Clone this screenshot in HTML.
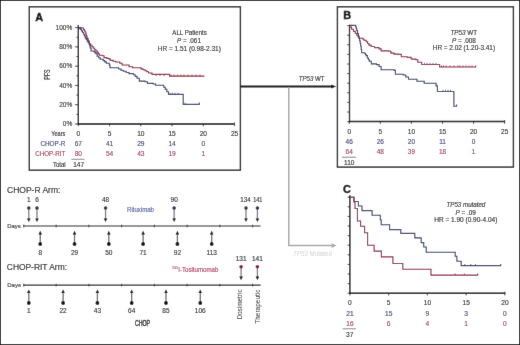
<!DOCTYPE html>
<html><head><meta charset="utf-8"><style>
html,body{margin:0;padding:0;background:#fff;width:520px;height:345px;overflow:hidden}
svg{display:block;will-change:transform}
text{font-family:"Liberation Sans", sans-serif}
</style></head><body>
<svg width="520" height="345" viewBox="0 0 520 345" font-family='"Liberation Sans", sans-serif'>
<defs><filter id="soft" x="0" y="0" width="520" height="345" filterUnits="userSpaceOnUse"><feConvolveMatrix order="3" kernelMatrix="0.006 0.07 0.006 0.07 1 0.07 0.006 0.07 0.006" edgeMode="duplicate"/></filter></defs>
<g filter="url(#soft)">
<rect x="0.5" y="0.5" width="519" height="344" fill="#fff" stroke="#1e1e1e" stroke-width="1"/>
<rect x="29.3" y="6.8" width="211.1" height="163.4" fill="none" stroke="#1c1c1c" stroke-width="1.4"/>
<text x="35.2" y="20.8" font-size="10.9" text-anchor="start" fill="#000" stroke="#000" stroke-width="0.35" font-weight="bold">A</text>
<line x1="78.3" y1="25.0" x2="78.3" y2="124.6" stroke="#000" stroke-width="1.3"/>
<line x1="77.8" y1="124.0" x2="234.6" y2="124.0" stroke="#000" stroke-width="1.5"/>
<line x1="75.1" y1="27.6" x2="78.3" y2="27.6" stroke="#222" stroke-width="0.9"/>
<line x1="76.5" y1="37.24" x2="78.3" y2="37.24" stroke="#222" stroke-width="0.9"/>
<line x1="75.1" y1="46.88" x2="78.3" y2="46.88" stroke="#222" stroke-width="0.9"/>
<line x1="76.5" y1="56.52000000000001" x2="78.3" y2="56.52000000000001" stroke="#222" stroke-width="0.9"/>
<line x1="75.1" y1="66.16" x2="78.3" y2="66.16" stroke="#222" stroke-width="0.9"/>
<line x1="76.5" y1="75.80000000000001" x2="78.3" y2="75.80000000000001" stroke="#222" stroke-width="0.9"/>
<line x1="75.1" y1="85.44000000000001" x2="78.3" y2="85.44000000000001" stroke="#222" stroke-width="0.9"/>
<line x1="76.5" y1="95.08000000000001" x2="78.3" y2="95.08000000000001" stroke="#222" stroke-width="0.9"/>
<line x1="75.1" y1="104.72" x2="78.3" y2="104.72" stroke="#222" stroke-width="0.9"/>
<line x1="76.5" y1="114.36000000000001" x2="78.3" y2="114.36000000000001" stroke="#222" stroke-width="0.9"/>
<line x1="75.1" y1="124.0" x2="78.3" y2="124.0" stroke="#222" stroke-width="0.9"/>
<text x="72.2" y="29.8" font-size="6.5" text-anchor="end" fill="#333" stroke="#333" stroke-width="0.14">100%</text>
<text x="72.2" y="49.080000000000005" font-size="6.5" text-anchor="end" fill="#333" stroke="#333" stroke-width="0.14">80%</text>
<text x="72.2" y="68.36" font-size="6.5" text-anchor="end" fill="#333" stroke="#333" stroke-width="0.14">60%</text>
<text x="72.2" y="87.64000000000001" font-size="6.5" text-anchor="end" fill="#333" stroke="#333" stroke-width="0.14">40%</text>
<text x="72.2" y="106.92" font-size="6.5" text-anchor="end" fill="#333" stroke="#333" stroke-width="0.14">20%</text>
<text x="72.2" y="126.2" font-size="6.5" text-anchor="end" fill="#333" stroke="#333" stroke-width="0.14">0%</text>
<line x1="78.3" y1="124.0" x2="78.3" y2="126.2" stroke="#222" stroke-width="0.9"/>
<line x1="109.55" y1="124.0" x2="109.55" y2="126.2" stroke="#222" stroke-width="0.9"/>
<line x1="140.8" y1="124.0" x2="140.8" y2="126.2" stroke="#222" stroke-width="0.9"/>
<line x1="172.05" y1="124.0" x2="172.05" y2="126.2" stroke="#222" stroke-width="0.9"/>
<line x1="203.3" y1="124.0" x2="203.3" y2="126.2" stroke="#222" stroke-width="0.9"/>
<line x1="234.55" y1="124.0" x2="234.55" y2="126.2" stroke="#222" stroke-width="0.9"/>
<line x1="234.55" y1="122.5" x2="234.55" y2="124.0" stroke="#222" stroke-width="0.9"/>
<text x="78.3" y="136.3" font-size="6.6" text-anchor="middle" fill="#2a2a2a" stroke="#2a2a2a" stroke-width="0.14">0</text>
<text x="109.55" y="136.3" font-size="6.6" text-anchor="middle" fill="#2a2a2a" stroke="#2a2a2a" stroke-width="0.14">5</text>
<text x="140.8" y="136.3" font-size="6.6" text-anchor="middle" fill="#2a2a2a" stroke="#2a2a2a" stroke-width="0.14">10</text>
<text x="172.05" y="136.3" font-size="6.6" text-anchor="middle" fill="#2a2a2a" stroke="#2a2a2a" stroke-width="0.14">15</text>
<text x="203.3" y="136.3" font-size="6.6" text-anchor="middle" fill="#2a2a2a" stroke="#2a2a2a" stroke-width="0.14">20</text>
<text x="234.55" y="136.3" font-size="6.6" text-anchor="middle" fill="#2a2a2a" stroke="#2a2a2a" stroke-width="0.14">25</text>
<text transform="translate(49.8,74.6) rotate(-90)" x="0" y="0" font-size="8.2" text-anchor="middle" fill="#222" stroke="#222" stroke-width="0.25" textLength="10.2" lengthAdjust="spacingAndGlyphs">PFS</text>
<text x="65.4" y="136.3" font-size="6.7" text-anchor="end" fill="#2a2a2a" stroke="#2a2a2a" stroke-width="0.14" textLength="14.2" lengthAdjust="spacingAndGlyphs">Years</text>
<text x="65.4" y="146.3" font-size="6.7" text-anchor="end" fill="#3e4476" stroke="#3e4476" stroke-width="0.14" textLength="25.0" lengthAdjust="spacingAndGlyphs">CHOP-R</text>
<text x="65.4" y="156.2" font-size="6.7" text-anchor="end" fill="#a03c55" stroke="#a03c55" stroke-width="0.14" textLength="30.2" lengthAdjust="spacingAndGlyphs">CHOP-RIT</text>
<text x="65.6" y="167.4" font-size="6.7" text-anchor="end" fill="#2a2a2a" stroke="#2a2a2a" stroke-width="0.14" textLength="12.6" lengthAdjust="spacingAndGlyphs">Total</text>
<text x="78.3" y="146.3" font-size="6.6" text-anchor="middle" fill="#3e4476" stroke="#3e4476" stroke-width="0.14">67</text>
<text x="109.55" y="146.3" font-size="6.6" text-anchor="middle" fill="#3e4476" stroke="#3e4476" stroke-width="0.14">41</text>
<text x="140.8" y="146.3" font-size="6.6" text-anchor="middle" fill="#3e4476" stroke="#3e4476" stroke-width="0.14">29</text>
<text x="172.05" y="146.3" font-size="6.6" text-anchor="middle" fill="#3e4476" stroke="#3e4476" stroke-width="0.14">14</text>
<text x="203.3" y="146.3" font-size="6.6" text-anchor="middle" fill="#3e4476" stroke="#3e4476" stroke-width="0.14">0</text>
<text x="78.3" y="156.2" font-size="6.6" text-anchor="middle" fill="#a03c55" stroke="#a03c55" stroke-width="0.14">80</text>
<text x="109.55" y="156.2" font-size="6.6" text-anchor="middle" fill="#a03c55" stroke="#a03c55" stroke-width="0.14">54</text>
<text x="140.8" y="156.2" font-size="6.6" text-anchor="middle" fill="#a03c55" stroke="#a03c55" stroke-width="0.14">43</text>
<text x="172.05" y="156.2" font-size="6.6" text-anchor="middle" fill="#a03c55" stroke="#a03c55" stroke-width="0.14">19</text>
<text x="203.3" y="156.2" font-size="6.6" text-anchor="middle" fill="#a03c55" stroke="#a03c55" stroke-width="0.14">1</text>
<line x1="71.4" y1="159.3" x2="84.4" y2="159.3" stroke="#555" stroke-width="0.7"/>
<text x="78.6" y="167.4" font-size="6.5" text-anchor="middle" fill="#2a2a2a" stroke="#2a2a2a" stroke-width="0.14">147</text>
<text x="189.6" y="35.0" font-size="6.5" text-anchor="middle" fill="#2a2a2a" stroke="#2a2a2a" stroke-width="0.14" textLength="34.6" lengthAdjust="spacingAndGlyphs">ALL Patients</text>
<text x="189.0" y="42.7" font-size="6.5" text-anchor="middle" fill="#2a2a2a" stroke="#2a2a2a" stroke-width="0.14" textLength="23.9" lengthAdjust="spacingAndGlyphs"><tspan font-style="italic">P</tspan> = .061</text>
<text x="189.3" y="50.8" font-size="6.5" text-anchor="middle" fill="#2a2a2a" stroke="#2a2a2a" stroke-width="0.14" textLength="63.1" lengthAdjust="spacingAndGlyphs">HR = 1.51 (0.98-2.31)</text>
<path d="M78.3,27.6 H81.5 V28.0 H83.5 V29.6 H84.4 V31.0 H85.3 V32.3 H85.8 V33.9 H86.3 V35.5 H86.8 V37.0 H87.2 V38.5 H88.2 V41.0 H89.3 V43.7 H90.6 V45.2 H92.0 V46.7 H93.3 V48.2 H94.6 V49.7 H95.9 V51.0 H97.2 V52.3 H98.3 V53.8 H99.3 V55.2 H102.4 V55.8 H104.1 V57.6 H106.7 V58.4 H108.9 V58.9 H110.2 V60.4 H113.0 V61.2 H115.7 V62.0 H119.8 V63.2 H122.1 V65.0 H126.8 V65.0 H129.0 V66.7 H132.6 V67.8 H139.3 V67.8 H141.0 V68.9 H143.0 V69.8 H145.1 V70.7 H146.8 V71.8 H148.6 V73.0 H152.0 V74.4 H168.5 V74.4 H169.6 V76.1 H204.4 V76.1" fill="none" stroke="#8a2640" stroke-width="1.1" stroke-linejoin="miter"/>
<path d="M78.3,27.6 H79.8 V28.6 H80.7 V29.8 H81.6 V30.9 H82.5 V32.5 H83.5 V34.2 H84.4 V36.0 H85.3 V37.9 H86.2 V39.5 H87.2 V41.1 H88.2 V42.8 H89.3 V44.5 H89.8 V46.2 H90.2 V48.0 H91.1 V51.0 H93.7 V51.5 H94.8 V52.6 H95.9 V53.7 H97.2 V56.3 H98.7 V57.8 H100.2 V59.3 H103.3 V60.6 H104.8 V61.9 H106.3 V63.2 H109.3 V65.0 H110.0 V67.8 H118.6 V69.0 H121.0 V70.2 H123.3 V71.3 H126.2 V72.5 H129.0 V73.6 H133.5 V74.7 H135.2 V76.4 H137.0 V78.2 H139.3 V81.1 H145.1 V81.7 H147.4 V83.4 H153.2 V84.0 H155.5 V85.2 H162.5 V85.2 H163.8 V87.2 H165.2 V89.2 H166.8 V91.8 H168.5 V94.4 H183.2 V94.4 H183.2 V104.4 H199.3 V104.4 H199.3 V102.6" fill="none" stroke="#343c6a" stroke-width="1.1" stroke-linejoin="miter"/>
<line x1="156" y1="76.1" x2="156" y2="74.5" stroke="#8a2640" stroke-width="0.8"/>
<line x1="160" y1="76.1" x2="160" y2="74.5" stroke="#8a2640" stroke-width="0.8"/>
<line x1="164" y1="76.1" x2="164" y2="74.5" stroke="#8a2640" stroke-width="0.8"/>
<line x1="171" y1="76.1" x2="171" y2="74.5" stroke="#8a2640" stroke-width="0.8"/>
<line x1="174" y1="76.1" x2="174" y2="74.5" stroke="#8a2640" stroke-width="0.8"/>
<line x1="177.5" y1="76.1" x2="177.5" y2="74.5" stroke="#8a2640" stroke-width="0.8"/>
<line x1="181" y1="76.1" x2="181" y2="74.5" stroke="#8a2640" stroke-width="0.8"/>
<line x1="184" y1="76.1" x2="184" y2="74.5" stroke="#8a2640" stroke-width="0.8"/>
<line x1="188" y1="76.1" x2="188" y2="74.5" stroke="#8a2640" stroke-width="0.8"/>
<line x1="192" y1="76.1" x2="192" y2="74.5" stroke="#8a2640" stroke-width="0.8"/>
<line x1="196" y1="76.1" x2="196" y2="74.5" stroke="#8a2640" stroke-width="0.8"/>
<line x1="200" y1="76.1" x2="200" y2="74.5" stroke="#8a2640" stroke-width="0.8"/>
<line x1="170" y1="94.4" x2="170" y2="92.80000000000001" stroke="#343c6a" stroke-width="0.8"/>
<line x1="172.5" y1="94.4" x2="172.5" y2="92.80000000000001" stroke="#343c6a" stroke-width="0.8"/>
<line x1="175" y1="94.4" x2="175" y2="92.80000000000001" stroke="#343c6a" stroke-width="0.8"/>
<line x1="178" y1="94.4" x2="178" y2="92.80000000000001" stroke="#343c6a" stroke-width="0.8"/>
<line x1="185.1" y1="104.4" x2="185.1" y2="102.80000000000001" stroke="#343c6a" stroke-width="0.8"/>
<line x1="240" y1="86.4" x2="332.5" y2="86.4" stroke="#0a0a0a" stroke-width="2.0"/>
<polygon points="331.2,84.4 336.3,86.4 331.2,88.4" fill="#111"/>
<text x="298.7" y="81.0" font-size="6.6" text-anchor="start" fill="#2a2a2a" stroke="#2a2a2a" stroke-width="0.14" textLength="25.8" lengthAdjust="spacingAndGlyphs"><tspan font-style="italic">TP53</tspan> WT</text>
<path d="M288.75,87.3 V245.6 H333" fill="none" stroke="#a9a9a9" stroke-width="1.5"/>
<polygon points="331.6,243.3 336.6,245.6 331.6,247.9" fill="#a9a9a9"/>
<text x="293.1" y="256.0" font-size="6.4" text-anchor="start" fill="#d4d4d4" stroke="#d4d4d4" stroke-width="0.05" textLength="38.8" lengthAdjust="spacingAndGlyphs"><tspan font-style="italic">TP53</tspan> Mutated</text>
<rect x="337.4" y="6.8" width="176" height="160.3" fill="none" stroke="#1c1c1c" stroke-width="1.4"/>
<text x="343.3" y="19.0" font-size="10.9" text-anchor="start" fill="#000" stroke="#000" stroke-width="0.35" font-weight="bold">B</text>
<line x1="349.5" y1="24.8" x2="349.5" y2="122.2" stroke="#000" stroke-width="1.3"/>
<line x1="349.0" y1="121.6" x2="505.0" y2="121.6" stroke="#000" stroke-width="1.5"/>
<line x1="347.3" y1="25.6" x2="349.5" y2="25.6" stroke="#222" stroke-width="0.9"/>
<line x1="347.3" y1="35.2" x2="349.5" y2="35.2" stroke="#222" stroke-width="0.9"/>
<line x1="347.3" y1="44.8" x2="349.5" y2="44.8" stroke="#222" stroke-width="0.9"/>
<line x1="347.3" y1="54.400000000000006" x2="349.5" y2="54.400000000000006" stroke="#222" stroke-width="0.9"/>
<line x1="347.3" y1="64.0" x2="349.5" y2="64.0" stroke="#222" stroke-width="0.9"/>
<line x1="347.3" y1="73.6" x2="349.5" y2="73.6" stroke="#222" stroke-width="0.9"/>
<line x1="347.3" y1="83.2" x2="349.5" y2="83.2" stroke="#222" stroke-width="0.9"/>
<line x1="347.3" y1="92.80000000000001" x2="349.5" y2="92.80000000000001" stroke="#222" stroke-width="0.9"/>
<line x1="347.3" y1="102.4" x2="349.5" y2="102.4" stroke="#222" stroke-width="0.9"/>
<line x1="347.3" y1="112.0" x2="349.5" y2="112.0" stroke="#222" stroke-width="0.9"/>
<line x1="347.3" y1="121.6" x2="349.5" y2="121.6" stroke="#222" stroke-width="0.9"/>
<line x1="349.2" y1="121.6" x2="349.2" y2="123.8" stroke="#222" stroke-width="0.9"/>
<line x1="380.3" y1="121.6" x2="380.3" y2="123.8" stroke="#222" stroke-width="0.9"/>
<line x1="411.4" y1="121.6" x2="411.4" y2="123.8" stroke="#222" stroke-width="0.9"/>
<line x1="442.5" y1="121.6" x2="442.5" y2="123.8" stroke="#222" stroke-width="0.9"/>
<line x1="473.6" y1="121.6" x2="473.6" y2="123.8" stroke="#222" stroke-width="0.9"/>
<line x1="504.7" y1="121.6" x2="504.7" y2="123.8" stroke="#222" stroke-width="0.9"/>
<line x1="504.7" y1="120.1" x2="504.7" y2="121.6" stroke="#222" stroke-width="0.9"/>
<text x="349.2" y="133.6" font-size="6.5" text-anchor="middle" fill="#2a2a2a" stroke="#2a2a2a" stroke-width="0.14">0</text>
<text x="380.3" y="133.6" font-size="6.5" text-anchor="middle" fill="#2a2a2a" stroke="#2a2a2a" stroke-width="0.14">5</text>
<text x="411.4" y="133.6" font-size="6.5" text-anchor="middle" fill="#2a2a2a" stroke="#2a2a2a" stroke-width="0.14">10</text>
<text x="442.5" y="133.6" font-size="6.5" text-anchor="middle" fill="#2a2a2a" stroke="#2a2a2a" stroke-width="0.14">15</text>
<text x="473.6" y="133.6" font-size="6.5" text-anchor="middle" fill="#2a2a2a" stroke="#2a2a2a" stroke-width="0.14">20</text>
<text x="504.7" y="133.6" font-size="6.5" text-anchor="middle" fill="#2a2a2a" stroke="#2a2a2a" stroke-width="0.14">25</text>
<text x="349.2" y="143.7" font-size="6.5" text-anchor="middle" fill="#3e4476" stroke="#3e4476" stroke-width="0.14">46</text>
<text x="380.3" y="143.7" font-size="6.5" text-anchor="middle" fill="#3e4476" stroke="#3e4476" stroke-width="0.14">26</text>
<text x="411.4" y="143.7" font-size="6.5" text-anchor="middle" fill="#3e4476" stroke="#3e4476" stroke-width="0.14">20</text>
<text x="442.5" y="143.7" font-size="6.5" text-anchor="middle" fill="#3e4476" stroke="#3e4476" stroke-width="0.14">11</text>
<text x="473.6" y="143.7" font-size="6.5" text-anchor="middle" fill="#3e4476" stroke="#3e4476" stroke-width="0.14">0</text>
<text x="349.2" y="153.9" font-size="6.5" text-anchor="middle" fill="#a03c55" stroke="#a03c55" stroke-width="0.14">64</text>
<text x="380.3" y="153.9" font-size="6.5" text-anchor="middle" fill="#a03c55" stroke="#a03c55" stroke-width="0.14">48</text>
<text x="411.4" y="153.9" font-size="6.5" text-anchor="middle" fill="#a03c55" stroke="#a03c55" stroke-width="0.14">39</text>
<text x="442.5" y="153.9" font-size="6.5" text-anchor="middle" fill="#a03c55" stroke="#a03c55" stroke-width="0.14">18</text>
<text x="473.6" y="153.9" font-size="6.5" text-anchor="middle" fill="#a03c55" stroke="#a03c55" stroke-width="0.14">1</text>
<line x1="342.0" y1="157.2" x2="356.2" y2="157.2" stroke="#555" stroke-width="0.7"/>
<text x="349.3" y="165.0" font-size="6.6" text-anchor="middle" fill="#2a2a2a" stroke="#2a2a2a" stroke-width="0.14" textLength="10.4" lengthAdjust="spacingAndGlyphs">110</text>
<text x="463.7" y="34.7" font-size="6.5" text-anchor="middle" fill="#2a2a2a" stroke="#2a2a2a" stroke-width="0.14" textLength="26.6" lengthAdjust="spacingAndGlyphs"><tspan font-style="italic">TP53</tspan> WT</text>
<text x="463.9" y="42.8" font-size="6.5" text-anchor="middle" fill="#2a2a2a" stroke="#2a2a2a" stroke-width="0.14" textLength="23.9" lengthAdjust="spacingAndGlyphs"><tspan font-style="italic">P</tspan> = .008</text>
<text x="463.9" y="50.1" font-size="6.5" text-anchor="middle" fill="#2a2a2a" stroke="#2a2a2a" stroke-width="0.14" textLength="62.3" lengthAdjust="spacingAndGlyphs">HR = 2.02 (1.20-3.41)</text>
<path d="M349.5,25.4 H349.7 V27.0 H351.6 V29.2 H353.5 V31.4 H355.2 V33.3 H356.8 V35.2 H358.0 V36.8 H359.0 V38.3 H361.8 V38.3 H363.0 V39.2 H364.0 V40.2 H366.2 V41.8 H367.6 V43.5 H368.9 V45.1 H371.1 V46.5 H374.5 V47.6 H379.1 V48.9 H381.1 V50.9 H388.9 V51.3 H390.9 V53.1 H394.1 V54.1 H398.0 V54.4 H401.3 V56.7 H407.2 V57.4 H411.1 V58.7 H412.0 V59.1 H415.9 V59.8 H417.8 V62.2 H421.7 V64.5 H439.2 V64.5 H439.6 V67.0 H475.7 V67.0 H475.7 V65.4" fill="none" stroke="#8a2640" stroke-width="1.1" stroke-linejoin="miter"/>
<path d="M349.5,25.4 H355.2 V25.4 H355.7 V27.0 H356.3 V28.9 H356.8 V30.8 H357.6 V33.5 H358.5 V36.3 H359.0 V38.5 H359.6 V40.7 H360.2 V43.5 H360.7 V46.2 H361.2 V49.5 H361.6 V52.8 H364.7 V53.5 H365.5 V54.6 H366.2 V55.6 H367.4 V58.0 H368.4 V59.7 H369.3 V61.3 H371.3 V63.9 H376.5 V64.6 H379.1 V66.5 H381.1 V69.8 H394.1 V70.4 H395.4 V74.3 H403.2 V75.0 H405.8 V77.0 H408.5 V79.2 H416.5 V79.2 H416.9 V81.3 H423.7 V81.3 H424.2 V83.2 H433.5 V83.2 H436.1 V85.9 H437.4 V91.5 H453.9 V91.5 H453.9 V106.3 H456.6 V106.3 H456.6 V104.6" fill="none" stroke="#343c6a" stroke-width="1.1" stroke-linejoin="miter"/>
<line x1="424.5" y1="64.5" x2="424.5" y2="62.9" stroke="#8a2640" stroke-width="0.8"/>
<line x1="427" y1="64.5" x2="427" y2="62.9" stroke="#8a2640" stroke-width="0.8"/>
<line x1="430" y1="64.5" x2="430" y2="62.9" stroke="#8a2640" stroke-width="0.8"/>
<line x1="433" y1="64.5" x2="433" y2="62.9" stroke="#8a2640" stroke-width="0.8"/>
<line x1="436" y1="64.5" x2="436" y2="62.9" stroke="#8a2640" stroke-width="0.8"/>
<line x1="441.5" y1="67.0" x2="441.5" y2="65.4" stroke="#8a2640" stroke-width="0.8"/>
<line x1="443.5" y1="67.0" x2="443.5" y2="65.4" stroke="#8a2640" stroke-width="0.8"/>
<line x1="446" y1="67.0" x2="446" y2="65.4" stroke="#8a2640" stroke-width="0.8"/>
<line x1="450" y1="67.0" x2="450" y2="65.4" stroke="#8a2640" stroke-width="0.8"/>
<line x1="454" y1="67.0" x2="454" y2="65.4" stroke="#8a2640" stroke-width="0.8"/>
<line x1="458" y1="67.0" x2="458" y2="65.4" stroke="#8a2640" stroke-width="0.8"/>
<line x1="460" y1="67.0" x2="460" y2="65.4" stroke="#8a2640" stroke-width="0.8"/>
<line x1="463" y1="67.0" x2="463" y2="65.4" stroke="#8a2640" stroke-width="0.8"/>
<line x1="466" y1="67.0" x2="466" y2="65.4" stroke="#8a2640" stroke-width="0.8"/>
<line x1="469" y1="67.0" x2="469" y2="65.4" stroke="#8a2640" stroke-width="0.8"/>
<line x1="472" y1="67.0" x2="472" y2="65.4" stroke="#8a2640" stroke-width="0.8"/>
<line x1="443" y1="91.5" x2="443" y2="89.9" stroke="#343c6a" stroke-width="0.8"/>
<line x1="445.5" y1="91.5" x2="445.5" y2="89.9" stroke="#343c6a" stroke-width="0.8"/>
<line x1="448" y1="91.5" x2="448" y2="89.9" stroke="#343c6a" stroke-width="0.8"/>
<line x1="450.5" y1="91.5" x2="450.5" y2="89.9" stroke="#343c6a" stroke-width="0.8"/>
<text x="343.0" y="192.7" font-size="10.9" text-anchor="start" fill="#000" stroke="#000" stroke-width="0.35" font-weight="bold">C</text>
<line x1="349.9" y1="195.3" x2="349.9" y2="293.8" stroke="#000" stroke-width="1.3"/>
<line x1="349.4" y1="293.2" x2="505.2" y2="293.2" stroke="#000" stroke-width="1.5"/>
<line x1="347.7" y1="197.2" x2="349.9" y2="197.2" stroke="#222" stroke-width="0.9"/>
<line x1="347.7" y1="206.79999999999998" x2="349.9" y2="206.79999999999998" stroke="#222" stroke-width="0.9"/>
<line x1="347.7" y1="216.39999999999998" x2="349.9" y2="216.39999999999998" stroke="#222" stroke-width="0.9"/>
<line x1="347.7" y1="226.0" x2="349.9" y2="226.0" stroke="#222" stroke-width="0.9"/>
<line x1="347.7" y1="235.6" x2="349.9" y2="235.6" stroke="#222" stroke-width="0.9"/>
<line x1="347.7" y1="245.2" x2="349.9" y2="245.2" stroke="#222" stroke-width="0.9"/>
<line x1="347.7" y1="254.79999999999998" x2="349.9" y2="254.79999999999998" stroke="#222" stroke-width="0.9"/>
<line x1="347.7" y1="264.4" x2="349.9" y2="264.4" stroke="#222" stroke-width="0.9"/>
<line x1="347.7" y1="274.0" x2="349.9" y2="274.0" stroke="#222" stroke-width="0.9"/>
<line x1="347.7" y1="283.6" x2="349.9" y2="283.6" stroke="#222" stroke-width="0.9"/>
<line x1="347.7" y1="293.2" x2="349.9" y2="293.2" stroke="#222" stroke-width="0.9"/>
<line x1="349.9" y1="293.2" x2="349.9" y2="295.4" stroke="#222" stroke-width="0.9"/>
<line x1="388.65" y1="293.2" x2="388.65" y2="295.4" stroke="#222" stroke-width="0.9"/>
<line x1="427.4" y1="293.2" x2="427.4" y2="295.4" stroke="#222" stroke-width="0.9"/>
<line x1="466.15" y1="293.2" x2="466.15" y2="295.4" stroke="#222" stroke-width="0.9"/>
<line x1="504.9" y1="293.2" x2="504.9" y2="295.4" stroke="#222" stroke-width="0.9"/>
<line x1="504.9" y1="291.7" x2="504.9" y2="293.2" stroke="#222" stroke-width="0.9"/>
<text x="349.9" y="305.3" font-size="6.6" text-anchor="middle" fill="#2a2a2a" stroke="#2a2a2a" stroke-width="0.14">0</text>
<text x="388.65" y="305.3" font-size="6.6" text-anchor="middle" fill="#2a2a2a" stroke="#2a2a2a" stroke-width="0.14">5</text>
<text x="427.4" y="305.3" font-size="6.6" text-anchor="middle" fill="#2a2a2a" stroke="#2a2a2a" stroke-width="0.14">10</text>
<text x="466.15" y="305.3" font-size="6.6" text-anchor="middle" fill="#2a2a2a" stroke="#2a2a2a" stroke-width="0.14">15</text>
<text x="504.9" y="305.3" font-size="6.6" text-anchor="middle" fill="#2a2a2a" stroke="#2a2a2a" stroke-width="0.14">20</text>
<text x="349.9" y="315.6" font-size="6.6" text-anchor="middle" fill="#3e4476" stroke="#3e4476" stroke-width="0.14">21</text>
<text x="388.65" y="315.6" font-size="6.6" text-anchor="middle" fill="#3e4476" stroke="#3e4476" stroke-width="0.14">15</text>
<text x="427.4" y="315.6" font-size="6.6" text-anchor="middle" fill="#3e4476" stroke="#3e4476" stroke-width="0.14">9</text>
<text x="466.15" y="315.6" font-size="6.6" text-anchor="middle" fill="#3e4476" stroke="#3e4476" stroke-width="0.14">3</text>
<text x="504.9" y="315.6" font-size="6.6" text-anchor="middle" fill="#3e4476" stroke="#3e4476" stroke-width="0.14">0</text>
<text x="349.9" y="325.7" font-size="6.6" text-anchor="middle" fill="#a03c55" stroke="#a03c55" stroke-width="0.14">16</text>
<text x="388.65" y="325.7" font-size="6.6" text-anchor="middle" fill="#a03c55" stroke="#a03c55" stroke-width="0.14">6</text>
<text x="427.4" y="325.7" font-size="6.6" text-anchor="middle" fill="#a03c55" stroke="#a03c55" stroke-width="0.14">4</text>
<text x="466.15" y="325.7" font-size="6.6" text-anchor="middle" fill="#a03c55" stroke="#a03c55" stroke-width="0.14">1</text>
<text x="504.9" y="325.7" font-size="6.6" text-anchor="middle" fill="#a03c55" stroke="#a03c55" stroke-width="0.14">0</text>
<line x1="342.6" y1="328.8" x2="356.0" y2="328.8" stroke="#555" stroke-width="0.7"/>
<text x="349.7" y="337.1" font-size="6.6" text-anchor="middle" fill="#2a2a2a" stroke="#2a2a2a" stroke-width="0.14">37</text>
<text x="465.9" y="206.9" font-size="6.5" text-anchor="middle" fill="#2a2a2a" stroke="#2a2a2a" stroke-width="0.14" textLength="38.8" lengthAdjust="spacingAndGlyphs"><tspan font-style="italic">TP53 mutated</tspan></text>
<text x="465.6" y="214.6" font-size="6.5" text-anchor="middle" fill="#2a2a2a" stroke="#2a2a2a" stroke-width="0.14" textLength="20.3" lengthAdjust="spacingAndGlyphs"><tspan font-style="italic">P</tspan> = .09</text>
<text x="465.8" y="222.2" font-size="6.5" text-anchor="middle" fill="#2a2a2a" stroke="#2a2a2a" stroke-width="0.14" textLength="63.1" lengthAdjust="spacingAndGlyphs">HR = 1.90 (0.90-4.04)</text>
<path d="M349.9,197.2 H353.9 V201.5 H358.4 V206 H362 V210.6 H372.1 V215.2 H380.3 V219.7 H381.2 V224.8 H389.6 V229.6 H400.8 V233.4 H414.8 V237.9 H421.2 V242.6 H423.7 V247 H426.2 V252.2 H455.2 V256.3 H456.9 V261.3 H461.2 V265.6 H500.7 V264" fill="none" stroke="#343c6a" stroke-width="1.1"/>
<path d="M349.9,197.2 H354 V202 H355 V208.5 H357.4 V221 H360.6 V226.3 H364.6 V232.8 H367.6 V245.2 H374.1 V251.1 H381.4 V256.9 H392.9 V263.5 H402.8 V269.3 H431 V275.1 H477.7 V273.4" fill="none" stroke="#8a2640" stroke-width="1.1"/>
<line x1="464.8" y1="265.6" x2="464.8" y2="264.0" stroke="#343c6a" stroke-width="0.8"/>
<line x1="470.8" y1="265.6" x2="470.8" y2="264.0" stroke="#343c6a" stroke-width="0.8"/>
<line x1="475.4" y1="265.6" x2="475.4" y2="264.0" stroke="#343c6a" stroke-width="0.8"/>
<line x1="455.2" y1="275.1" x2="455.2" y2="273.5" stroke="#8a2640" stroke-width="0.8"/>
<line x1="464.4" y1="275.1" x2="464.4" y2="273.5" stroke="#8a2640" stroke-width="0.8"/>
<text x="7.0" y="193.1" font-size="8.9" text-anchor="start" fill="#222" stroke="#222" stroke-width="0.14" textLength="53.4" lengthAdjust="spacingAndGlyphs">CHOP-R Arm:</text>
<text x="28.8" y="202.2" font-size="6.5" text-anchor="middle" fill="#2a2a2a" stroke="#2a2a2a" stroke-width="0.14">1</text>
<line x1="28.8" y1="208.0" x2="28.8" y2="219.5" stroke="#777" stroke-width="1.25"/>
<polygon points="27.0,218.4 30.6,218.4 28.8,222.0" fill="#111"/>
<circle cx="28.8" cy="208.0" r="1.8" fill="#2a2f5e"/>
<text x="36.97" y="202.2" font-size="6.5" text-anchor="middle" fill="#2a2a2a" stroke="#2a2a2a" stroke-width="0.14">6</text>
<line x1="36.97" y1="208.0" x2="36.97" y2="219.5" stroke="#777" stroke-width="1.25"/>
<polygon points="35.17,218.4 38.769999999999996,218.4 36.97,222.0" fill="#111"/>
<circle cx="36.97" cy="208.0" r="1.8" fill="#2a2f5e"/>
<text x="105.55" y="202.2" font-size="6.5" text-anchor="middle" fill="#2a2a2a" stroke="#2a2a2a" stroke-width="0.14">48</text>
<line x1="105.55" y1="208.0" x2="105.55" y2="219.5" stroke="#777" stroke-width="1.25"/>
<polygon points="103.75,218.4 107.35,218.4 105.55,222.0" fill="#111"/>
<circle cx="105.55" cy="208.0" r="1.8" fill="#2a2f5e"/>
<text x="174.14" y="202.2" font-size="6.5" text-anchor="middle" fill="#2a2a2a" stroke="#2a2a2a" stroke-width="0.14">90</text>
<line x1="174.14" y1="208.0" x2="174.14" y2="219.5" stroke="#777" stroke-width="1.25"/>
<polygon points="172.33999999999997,218.4 175.94,218.4 174.14,222.0" fill="#111"/>
<circle cx="174.14" cy="208.0" r="1.8" fill="#2a2f5e"/>
<text x="245.49" y="202.2" font-size="6.5" text-anchor="middle" fill="#2a2a2a" stroke="#2a2a2a" stroke-width="0.14" textLength="10.4" lengthAdjust="spacingAndGlyphs">134</text>
<line x1="245.99" y1="208.0" x2="245.99" y2="219.5" stroke="#777" stroke-width="1.25"/>
<polygon points="244.19,218.4 247.79000000000002,218.4 245.99,222.0" fill="#111"/>
<circle cx="245.99" cy="208.0" r="1.8" fill="#2a2f5e"/>
<text x="257.82" y="202.2" font-size="6.5" text-anchor="middle" fill="#2a2a2a" stroke="#2a2a2a" stroke-width="0.14" textLength="9.2" lengthAdjust="spacingAndGlyphs">141</text>
<line x1="257.42" y1="208.0" x2="257.42" y2="219.5" stroke="#777" stroke-width="1.25"/>
<polygon points="255.62,218.4 259.22,218.4 257.42,222.0" fill="#111"/>
<circle cx="257.42" cy="208.0" r="1.8" fill="#2a2f5e"/>
<text x="7.2" y="228.3" font-size="6.0" text-anchor="start" fill="#333" stroke="#333" stroke-width="0.14" textLength="13.6" lengthAdjust="spacingAndGlyphs">Days</text>
<line x1="23.4" y1="226.0" x2="260.6" y2="226.0" stroke="#2a2a2a" stroke-width="1.15"/>
<line x1="23.799999999999997" y1="224.6" x2="23.799999999999997" y2="227.4" stroke="#333" stroke-width="1.0"/>
<line x1="56.14" y1="224.7" x2="56.14" y2="227.3" stroke="#222" stroke-width="0.9"/>
<line x1="88.88" y1="224.7" x2="88.88" y2="227.3" stroke="#222" stroke-width="0.9"/>
<line x1="121.62" y1="224.7" x2="121.62" y2="227.3" stroke="#222" stroke-width="0.9"/>
<line x1="154.36" y1="224.7" x2="154.36" y2="227.3" stroke="#222" stroke-width="0.9"/>
<line x1="187.10000000000002" y1="224.7" x2="187.10000000000002" y2="227.3" stroke="#222" stroke-width="0.9"/>
<line x1="219.84" y1="224.7" x2="219.84" y2="227.3" stroke="#222" stroke-width="0.9"/>
<line x1="252.58" y1="224.7" x2="252.58" y2="227.3" stroke="#222" stroke-width="0.9"/>
<line x1="40.23" y1="233.3" x2="40.23" y2="244.0" stroke="#6a6a6a" stroke-width="1.3"/>
<polygon points="38.43,234.4 42.029999999999994,234.4 40.23,230.8" fill="#111"/>
<circle cx="40.23" cy="244.0" r="1.9" fill="#111"/>
<text x="40.23" y="254.5" font-size="6.5" text-anchor="middle" fill="#2a2a2a" stroke="#2a2a2a" stroke-width="0.14">8</text>
<line x1="74.52" y1="233.3" x2="74.52" y2="244.0" stroke="#6a6a6a" stroke-width="1.3"/>
<polygon points="72.72,234.4 76.32,234.4 74.52,230.8" fill="#111"/>
<circle cx="74.52" cy="244.0" r="1.9" fill="#111"/>
<text x="74.52" y="254.5" font-size="6.5" text-anchor="middle" fill="#2a2a2a" stroke="#2a2a2a" stroke-width="0.14">29</text>
<line x1="108.82" y1="233.3" x2="108.82" y2="244.0" stroke="#6a6a6a" stroke-width="1.3"/>
<polygon points="107.02,234.4 110.61999999999999,234.4 108.82,230.8" fill="#111"/>
<circle cx="108.82" cy="244.0" r="1.9" fill="#111"/>
<text x="108.82" y="254.5" font-size="6.5" text-anchor="middle" fill="#2a2a2a" stroke="#2a2a2a" stroke-width="0.14">50</text>
<line x1="143.11" y1="233.3" x2="143.11" y2="244.0" stroke="#6a6a6a" stroke-width="1.3"/>
<polygon points="141.31,234.4 144.91000000000003,234.4 143.11,230.8" fill="#111"/>
<circle cx="143.11" cy="244.0" r="1.9" fill="#111"/>
<text x="143.11" y="254.5" font-size="6.5" text-anchor="middle" fill="#2a2a2a" stroke="#2a2a2a" stroke-width="0.14">71</text>
<line x1="177.4" y1="233.3" x2="177.4" y2="244.0" stroke="#6a6a6a" stroke-width="1.3"/>
<polygon points="175.6,234.4 179.20000000000002,234.4 177.4,230.8" fill="#111"/>
<circle cx="177.4" cy="244.0" r="1.9" fill="#111"/>
<text x="177.4" y="254.5" font-size="6.5" text-anchor="middle" fill="#2a2a2a" stroke="#2a2a2a" stroke-width="0.14">92</text>
<line x1="211.7" y1="233.3" x2="211.7" y2="244.0" stroke="#6a6a6a" stroke-width="1.3"/>
<polygon points="209.89999999999998,234.4 213.5,234.4 211.7,230.8" fill="#111"/>
<circle cx="211.7" cy="244.0" r="1.9" fill="#111"/>
<text x="211.7" y="254.5" font-size="6.5" text-anchor="middle" fill="#2a2a2a" stroke="#2a2a2a" stroke-width="0.14">113</text>
<text x="127.0" y="211.5" font-size="6.4" text-anchor="start" fill="#56629e" stroke="#56629e" stroke-width="0.14" textLength="27.0" lengthAdjust="spacingAndGlyphs">Rituximab</text>
<text x="6.8" y="269.8" font-size="8.9" text-anchor="start" fill="#222" stroke="#222" stroke-width="0.14" textLength="60.2" lengthAdjust="spacingAndGlyphs">CHOP-RIT Arm:</text>
<text x="7.2" y="287.0" font-size="6.0" text-anchor="start" fill="#333" stroke="#333" stroke-width="0.14" textLength="13.8" lengthAdjust="spacingAndGlyphs">Days</text>
<line x1="23.4" y1="285.1" x2="260.6" y2="285.1" stroke="#2a2a2a" stroke-width="1.15"/>
<line x1="23.799999999999997" y1="283.70000000000005" x2="23.799999999999997" y2="286.5" stroke="#333" stroke-width="1.0"/>
<line x1="56.14" y1="283.8" x2="56.14" y2="286.40000000000003" stroke="#222" stroke-width="0.9"/>
<line x1="88.88" y1="283.8" x2="88.88" y2="286.40000000000003" stroke="#222" stroke-width="0.9"/>
<line x1="121.62" y1="283.8" x2="121.62" y2="286.40000000000003" stroke="#222" stroke-width="0.9"/>
<line x1="154.36" y1="283.8" x2="154.36" y2="286.40000000000003" stroke="#222" stroke-width="0.9"/>
<line x1="187.10000000000002" y1="283.8" x2="187.10000000000002" y2="286.40000000000003" stroke="#222" stroke-width="0.9"/>
<line x1="219.84" y1="283.8" x2="219.84" y2="286.40000000000003" stroke="#222" stroke-width="0.9"/>
<line x1="252.58" y1="283.8" x2="252.58" y2="286.40000000000003" stroke="#222" stroke-width="0.9"/>
<line x1="28.8" y1="292.0" x2="28.8" y2="303.0" stroke="#6a6a6a" stroke-width="1.3"/>
<polygon points="27.0,293.1 30.6,293.1 28.8,289.5" fill="#111"/>
<circle cx="28.8" cy="303.0" r="1.9" fill="#111"/>
<text x="28.8" y="313.2" font-size="6.5" text-anchor="middle" fill="#2a2a2a" stroke="#2a2a2a" stroke-width="0.14">1</text>
<line x1="63.09" y1="292.0" x2="63.09" y2="303.0" stroke="#6a6a6a" stroke-width="1.3"/>
<polygon points="61.290000000000006,293.1 64.89,293.1 63.09,289.5" fill="#111"/>
<circle cx="63.09" cy="303.0" r="1.9" fill="#111"/>
<text x="63.09" y="313.2" font-size="6.5" text-anchor="middle" fill="#2a2a2a" stroke="#2a2a2a" stroke-width="0.14">22</text>
<line x1="97.39" y1="292.0" x2="97.39" y2="303.0" stroke="#6a6a6a" stroke-width="1.3"/>
<polygon points="95.59,293.1 99.19,293.1 97.39,289.5" fill="#111"/>
<circle cx="97.39" cy="303.0" r="1.9" fill="#111"/>
<text x="97.39" y="313.2" font-size="6.5" text-anchor="middle" fill="#2a2a2a" stroke="#2a2a2a" stroke-width="0.14">43</text>
<line x1="131.68" y1="292.0" x2="131.68" y2="303.0" stroke="#6a6a6a" stroke-width="1.3"/>
<polygon points="129.88,293.1 133.48000000000002,293.1 131.68,289.5" fill="#111"/>
<circle cx="131.68" cy="303.0" r="1.9" fill="#111"/>
<text x="131.68" y="313.2" font-size="6.5" text-anchor="middle" fill="#2a2a2a" stroke="#2a2a2a" stroke-width="0.14">64</text>
<line x1="165.97" y1="292.0" x2="165.97" y2="303.0" stroke="#6a6a6a" stroke-width="1.3"/>
<polygon points="164.17,293.1 167.77,293.1 165.97,289.5" fill="#111"/>
<circle cx="165.97" cy="303.0" r="1.9" fill="#111"/>
<text x="165.97" y="313.2" font-size="6.5" text-anchor="middle" fill="#2a2a2a" stroke="#2a2a2a" stroke-width="0.14">85</text>
<line x1="200.27" y1="292.0" x2="200.27" y2="303.0" stroke="#6a6a6a" stroke-width="1.3"/>
<polygon points="198.47,293.1 202.07000000000002,293.1 200.27,289.5" fill="#111"/>
<circle cx="200.27" cy="303.0" r="1.9" fill="#111"/>
<text x="200.27" y="313.2" font-size="6.5" text-anchor="middle" fill="#2a2a2a" stroke="#2a2a2a" stroke-width="0.14">106</text>
<text x="241.09" y="260.8" font-size="6.5" text-anchor="middle" fill="#2a2a2a" stroke="#2a2a2a" stroke-width="0.14">131</text>
<line x1="241.09" y1="266.7" x2="241.09" y2="277.7" stroke="#777" stroke-width="1.25"/>
<polygon points="239.29,276.59999999999997 242.89000000000001,276.59999999999997 241.09,280.2" fill="#111"/>
<circle cx="241.09" cy="266.7" r="1.8" fill="#7a1a36"/>
<text x="257.42" y="260.8" font-size="6.5" text-anchor="middle" fill="#2a2a2a" stroke="#2a2a2a" stroke-width="0.14">141</text>
<line x1="257.42" y1="266.7" x2="257.42" y2="277.7" stroke="#777" stroke-width="1.25"/>
<polygon points="255.62,276.59999999999997 259.22,276.59999999999997 257.42,280.2" fill="#111"/>
<circle cx="257.42" cy="266.7" r="1.8" fill="#7a1a36"/>
<text x="172.0" y="271.6" font-size="6.3" text-anchor="start" fill="#b04862" stroke="#b04862" stroke-width="0.14" textLength="46.4" lengthAdjust="spacingAndGlyphs"><tspan font-size="3.8" dy="-2.2">131</tspan><tspan dy="2.2">I-Tositumomab</tspan></text>
<text x="134.9" y="325.9" font-size="8.4" text-anchor="start" fill="#1a1a1a" stroke="#1a1a1a" stroke-width="0.4" textLength="15.1" lengthAdjust="spacingAndGlyphs">CHOP</text>
<text transform="translate(242.3,289.4) rotate(-90)" x="0" y="0" font-size="6.3" text-anchor="end" fill="#3a3a3a" stroke="#3a3a3a" stroke-width="0.05" textLength="30.2" lengthAdjust="spacingAndGlyphs">Dosimetric</text>
<text transform="translate(259.8,289.4) rotate(-90)" x="0" y="0" font-size="6.3" text-anchor="end" fill="#3a3a3a" stroke="#3a3a3a" stroke-width="0.05" textLength="34.4" lengthAdjust="spacingAndGlyphs">Therapeutic</text>
</g>
</svg>
</body></html>
